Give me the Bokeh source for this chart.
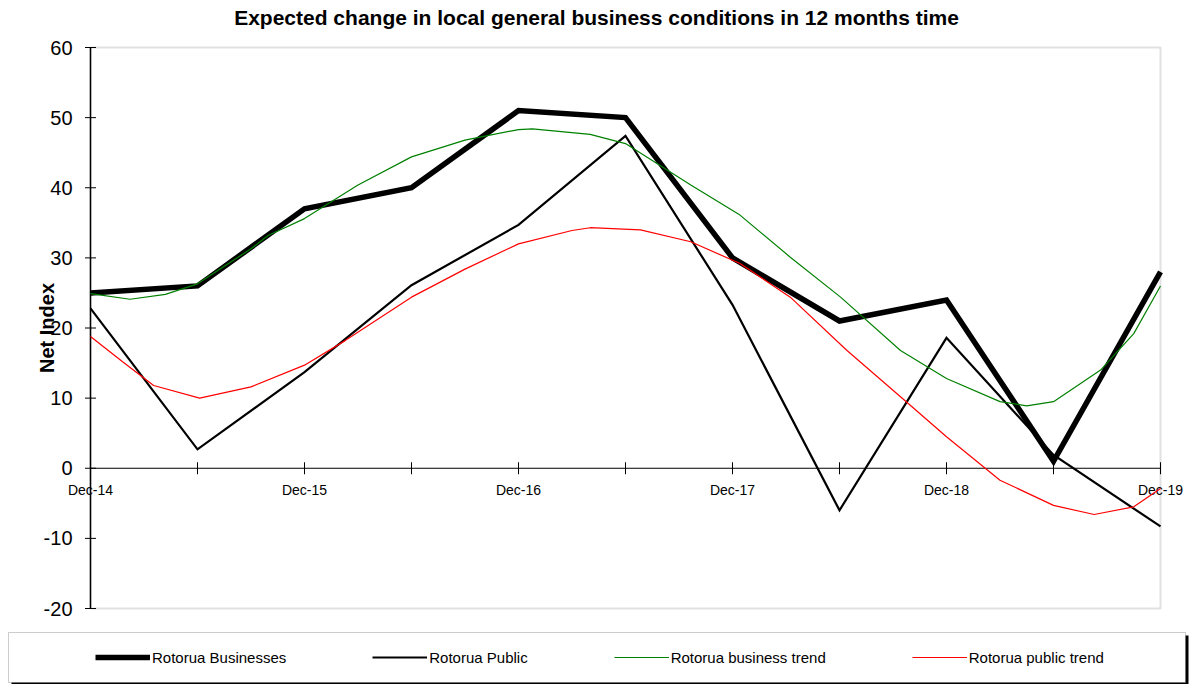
import math
from bokeh.plotting import figure
from bokeh.models import Range1d, Legend, LegendItem, BoxAnnotation
from bokeh.core.properties import value
from bokeh.embed import file_html
from bokeh.resources import INLINE

# ---------------- data ----------------
periods = ["Dec-14", "Jun-15", "Dec-15", "Jun-16", "Dec-16", "Jun-17",
           "Dec-17", "Jun-18", "Dec-18", "Jun-19", "Dec-19"]
x_labels = ["Dec-14", "", "Dec-15", "", "Dec-16", "", "Dec-17", "", "Dec-18", "", "Dec-19"]
businesses = [25, 26, 37, 40, 51, 50, 30, 21, 24, 1, 28]
public = [22.8, 2.7, 13.7, 26.1, 34.7, 47.4, 23.3, -6.0, 18.6, 1.9, -8.3]

# trend curves (x = position in periods, 0 = Dec-14)
business_trend_x = [0, 0.37, 0.7, 1.0, 1.5, 1.66, 2.0, 2.5, 3.0, 3.5, 4.0, 4.13, 4.67,
                    5.0, 5.61, 6.07, 6.54, 7.01, 7.57, 8.0, 8.5, 8.75, 9.0, 9.44, 9.75, 10]
business_trend_y = [24.9, 24.1, 24.8, 26.3, 31.3, 33.2, 35.6, 40.4, 44.4, 46.8, 48.3, 48.4, 47.6,
                    46.3, 40.4, 36.1, 30.1, 24.4, 16.8, 12.8, 9.5, 8.9, 9.5, 14.0, 19.2, 26.0]
public_trend_x = [0, 0.3, 0.59, 1.02, 1.5, 2.0, 2.38, 3.0, 3.5, 4.0, 4.5, 4.67, 5.14,
                  5.61, 6.07, 6.54, 7.07, 7.57, 8.0, 8.5, 9.0, 9.38, 9.75, 10]
public_trend_y = [18.8, 15.2, 11.8, 10.0, 11.6, 14.7, 18.2, 24.4, 28.4, 32.0, 33.9, 34.3, 34.0,
                  32.3, 29.2, 24.4, 16.8, 10.2, 4.5, -1.7, -5.3, -6.6, -5.5, -2.9]

y_ticks = [-20, -10, 0, 10, 20, 30, 40, 50, 60]
y_tick_labels = ["-20", "-10", "0", "10", "20", "30", "40", "50", "60"]
series_names = ["Rotorua Businesses", "Rotorua Public", "Rotorua business trend", "Rotorua public trend"]
y_title = "Net Index"
title = "Expected change in local general business conditions in 12 months time"

FONT = "Liberation Sans"

# ---------------- layout (pixels) ----------------
W, H = 1192, 684
TOP = 30                       # title band
PL, PR, PT, PB = 90, 1160, 47, 608   # plotting area inside the page

xs = list(range(len(periods)))
xmin, xmax = 0, len(periods) - 1
ymin, ymax = min(y_ticks), max(y_ticks)
dx = (xmax - xmin) / (PR - PL)
dy = (ymax - ymin) / (PB - PT)

p = figure(width=W, height=H, output_backend="svg", toolbar_location=None,
           x_axis_location=None, y_axis_location=None,
           x_range=Range1d(xmin - PL * dx, xmax + (W - PR) * dx),
           y_range=Range1d(ymin - (H - PB) * dy, ymax + (PT - TOP) * dy),
           min_border_left=0, min_border_right=0, min_border_bottom=0, min_border_top=TOP)
p.title.text = title
p.title.text_font = FONT
p.title.text_font_style = "bold"
p.title.text_font_size = "21px"
p.title.text_color = "black"
p.title.align = "center"
p.title.standoff = 4
p.grid.visible = False
p.outline_line_color = None
p.background_fill_color = "white"
p.border_fill_color = "white"

# plotting-area frame (drawn beneath everything else)
p.add_layout(BoxAnnotation(left=xmin, right=xmax, bottom=ymin, top=ymax, level="underlay",
                           fill_alpha=0, line_color="#9a9a9a", line_width=2))

# value axis
p.segment(x0=[xmin], y0=[ymin], x1=[xmin], y1=[ymax], line_color="black", line_width=1.5)
p.scatter(x=[xmin] * len(y_ticks), y=y_ticks, marker="dash", size=11,
          line_color="black", line_width=1)
p.text(x=[xmin] * len(y_ticks), y=y_ticks, text=y_tick_labels, x_offset=-18,
       text_align="right", text_baseline="middle", text_font=value(FONT),
       text_font_size="20px", text_color="black")
p.text(x=[xmin], y=[(ymin + ymax) / 2], text=[y_title], x_offset=-44, angle=math.pi / 2,
       text_align="center", text_baseline="middle", text_font=value(FONT),
       text_font_style="bold", text_font_size="20px", text_color="black")

# category axis along zero
p.segment(x0=[xmin], y0=[0], x1=[xmax], y1=[0], line_color="black", line_width=1)
p.scatter(x=xs, y=[0] * len(xs), marker="dash", angle=math.pi / 2, size=12,
          line_color="black", line_width=1)
p.text(x=xs, y=[0] * len(xs), text=x_labels, y_offset=14, text_align="center",
       text_baseline="top", text_font=value(FONT), text_font_size="14px", text_color="black")

# series
r1 = p.line(xs, businesses, line_color="black", line_width=5.5, line_join="miter")
r2 = p.line(xs, public, line_color="black", line_width=2.2, line_join="miter")
r3 = p.line(business_trend_x, business_trend_y, line_color="#008000", line_width=1.2)
r4 = p.line(public_trend_x, public_trend_y, line_color="#ff0000", line_width=1.2)

# legend box with its shadow (canvas pixels)
p.add_layout(BoxAnnotation(left=11, right=1188, top=635, bottom=685,
                           left_units="canvas", right_units="canvas",
                           top_units="canvas", bottom_units="canvas",
                           fill_color="black", fill_alpha=1, line_color=None))
p.add_layout(BoxAnnotation(left=8, right=1185, top=632, bottom=682,
                           left_units="canvas", right_units="canvas",
                           top_units="canvas", bottom_units="canvas",
                           fill_color="white", fill_alpha=1, line_color="#555555",
                           line_width=1))

legend = Legend(items=[LegendItem(label=n, renderers=[r]) for n, r in zip(series_names, [r1, r2, r3, r4])],
                location=(95, 17), orientation="horizontal", glyph_width=55, glyph_height=20,
                spacing=86, label_standoff=2, padding=0, margin=0,
                border_line_alpha=0, background_fill_alpha=0,
                label_text_font=FONT, label_text_font_size="15px", label_text_color="black")
p.add_layout(legend, "center")

open("out.html", "w").write(file_html(p, INLINE))
